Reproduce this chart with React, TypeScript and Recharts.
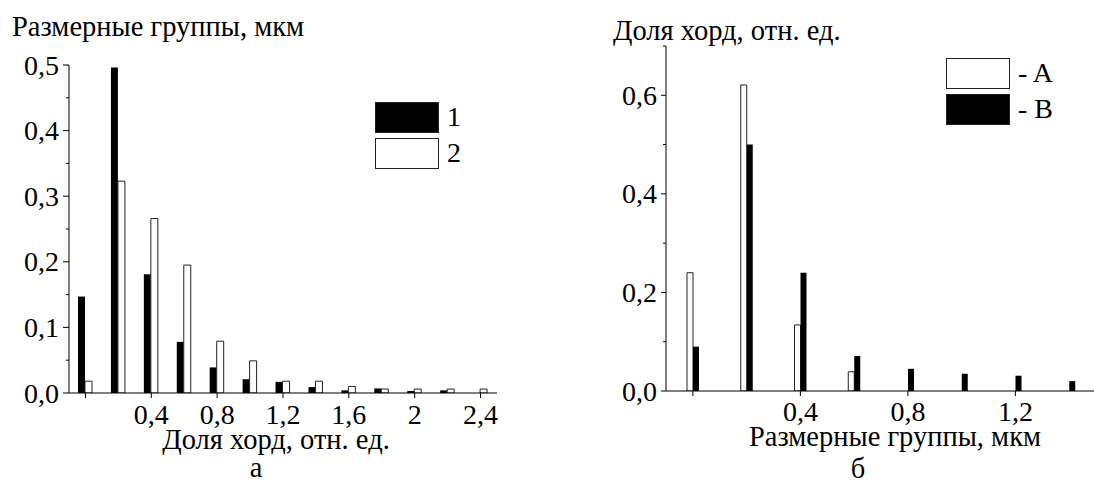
import React from 'react';
import { BarChart, Bar, XAxis, YAxis, Legend } from 'recharts';

const FONT = '"Liberation Serif", "Times New Roman", Times, serif';

// ---- Panel а ----
const groupsA = [0, 0.2, 0.4, 0.6, 0.8, 1.0, 1.2, 1.4, 1.6, 1.8, 2.0, 2.2, 2.4];
const series1 = [0.147, 0.496, 0.181, 0.078, 0.039, 0.021, 0.017, 0.009, 0.004, 0.007, 0.003, 0.004, null];
const series2 = [0.018, 0.323, 0.266, 0.195, 0.079, 0.049, 0.018, 0.018, 0.010, 0.006, 0.006, 0.006, 0.006];
const yMajorA = [0, 0.1, 0.2, 0.3, 0.4, 0.5];
const yLabelsA = ['0,0', '0,1', '0,2', '0,3', '0,4', '0,5'];
const yMinorA = [0.05, 0.15, 0.25, 0.35, 0.45];
const xTicksA = [0, 0.4, 0.8, 1.2, 1.6, 2, 2.4];
const xLabelsA = ['', '0,4', '0,8', '1,2', '1,6', '2', '2,4'];

// ---- Panel б ----
const groupsB = [0, 0.2, 0.4, 0.6, 0.8, 1.0, 1.2, 1.4];
const seriesA = [0.24, 0.621, 0.134, 0.039, null, null, null, null];
const seriesB = [0.09, 0.5, 0.24, 0.071, 0.045, 0.035, 0.031, 0.02];
const yMajorB = [0, 0.2, 0.4, 0.6];
const yLabelsB = ['0,0', '0,2', '0,4', '0,6'];
const yMinorB = [0.1, 0.3, 0.5, 0.7];
const xTicksB = [0, 0.4, 0.8, 1.2];
const xLabelsB = ['', '0,4', '0,8', '1,2'];

const dataA = groupsA.map((g, i) => ({ x: g, s1: series1[i], s2: series2[i] }));
const dataB = groupsB.map((g, i) => ({ x: g, a: seriesA[i], b: seriesB[i] }));

const TICK_FS = 28;
const TITLE_FS = 28.5;

const near = (a: number, b: number) => Math.abs(a - b) < 1e-9;

const makeYTick = (majors: number[], labels: string[], majorLen: number, minorLen: number) => (props: any) => {
  const { x, y, payload } = props;
  const idx = majors.findIndex((m) => near(m, payload.value));
  const isMajor = idx >= 0;
  const len = isMajor ? majorLen : minorLen;
  return (
    <g>
      <line x1={x - len} x2={x} y1={y} y2={y} stroke="#000" strokeWidth={1} />
      {isMajor && (
        <text x={x - len - 4} y={y} dy="0.34em" textAnchor="end" fontFamily={FONT} fontSize={TICK_FS} fill="#000">
          {labels[idx]}
        </text>
      )}
    </g>
  );
};

const makeXTick = (ticks: number[], labels: string[], len: number, baseOff: number) => (props: any) => {
  const { x, y, payload } = props;
  const idx = ticks.findIndex((t) => near(t, payload.value));
  return (
    <g>
      <line x1={x} x2={x} y1={y} y2={y + len} stroke="#000" strokeWidth={1} />
      {idx >= 0 && labels[idx] !== '' && (
        <text x={x} y={y + baseOff} textAnchor="middle" fontFamily={FONT} fontSize={TICK_FS} fill="#000">
          {labels[idx]}
        </text>
      )}
    </g>
  );
};

const makeLegend = (left: number, top: number) => (props: any) => {
  const { payload } = props;
  return (
    <div style={{ position: 'absolute', left, top, fontFamily: FONT, fontSize: TICK_FS, color: '#000' }}>
      {(payload || []).map((p: any, i: number) => (
        <div key={i} style={{ display: 'flex', alignItems: 'center', height: 32, marginBottom: 4 }}>
          <div
            style={{
              width: 64,
              height: 31,
              boxSizing: 'border-box',
              background: p.payload && p.payload.fill ? p.payload.fill : p.color,
              border: '1px solid #222',
            }}
          />
          <span style={{ marginLeft: 8, lineHeight: '32px', whiteSpace: 'pre' }}>{p.value}</span>
        </div>
      ))}
    </div>
  );
};

const textStyle = { fontFamily: FONT, fontSize: TITLE_FS, fill: '#000' } as const;

export default function App() {
  return (
    <div style={{ position: 'absolute', left: 0, top: 0, width: 1094, height: 485, overflow: 'hidden', background: '#fff' }}>
      {/* Panel а */}
      <div style={{ position: 'absolute', left: 0, top: 0 }}>
        <BarChart
          width={540}
          height={485}
          data={dataA}
          barGap={0}
          margin={{ top: 65, right: 43, bottom: 62, left: 9 }}
        >
          <XAxis
            type="number"
            dataKey="x"
            domain={[-0.1, 2.5]}
            ticks={xTicksA}
            interval={0}
            allowDataOverflow
            tickSize={0}
            tickMargin={0}
            tickLine={false}
            axisLine={{ stroke: '#000', strokeWidth: 1 }}
            tick={makeXTick(xTicksA, xLabelsA, 5, 31)}
            height={30}
          />
          <YAxis
            type="number"
            domain={[0, 0.5]}
            ticks={[...yMajorA, ...yMinorA].sort((a, b) => a - b)}
            interval={0}
            allowDataOverflow
            tickSize={0}
            tickMargin={0}
            tickLine={false}
            axisLine={{ stroke: '#000', strokeWidth: 1 }}
            tick={makeYTick(yMajorA, yLabelsA, 6, 3)}
            width={60}
          />
          <Legend
            layout="vertical"
            align="center"
            verticalAlign="middle"
            wrapperStyle={{ position: 'absolute', left: 0, top: 0, width: 540, height: 0 }}
            content={makeLegend(375, 101)}
          />
          <Bar dataKey="s1" name="1" fill="#000" barSize={7} isAnimationActive={false} />
          <Bar dataKey="s2" name="2" fill="#fff" stroke="#222" strokeWidth={1} barSize={7} isAnimationActive={false} />
        </BarChart>
        <svg width={540} height={485} style={{ position: 'absolute', left: 0, top: 0, pointerEvents: 'none' }}>
          <text x={12} y={36} {...textStyle}>Размерные группы, мкм</text>
          <text x={276} y={449} textAnchor="middle" {...textStyle}>Доля хорд, отн. ед.</text>
          <text x={256} y={477} textAnchor="middle" {...textStyle}>а</text>
        </svg>
      </div>

      {/* Panel б */}
      <div style={{ position: 'absolute', left: 540, top: 0 }}>
        <BarChart
          width={560}
          height={485}
          data={dataB}
          barGap={0}
          margin={{ top: 46, right: 4, bottom: 64, left: 66 }}
        >
          <XAxis
            type="number"
            dataKey="x"
            domain={[-0.1, 1.5]}
            ticks={xTicksB}
            interval={0}
            allowDataOverflow
            tickSize={0}
            tickMargin={0}
            tickLine={false}
            axisLine={{ stroke: '#000', strokeWidth: 1 }}
            tick={makeXTick(xTicksB, xLabelsB, 5, 30)}
            height={30}
          />
          <YAxis
            type="number"
            domain={[0, 0.7]}
            ticks={[...yMajorB, ...yMinorB].sort((a, b) => a - b)}
            interval={0}
            allowDataOverflow
            tickSize={0}
            tickMargin={0}
            tickLine={false}
            axisLine={{ stroke: '#000', strokeWidth: 1 }}
            tick={makeYTick(yMajorB, yLabelsB, 5, 3)}
            width={60}
          />
          <Legend
            layout="vertical"
            align="center"
            verticalAlign="middle"
            wrapperStyle={{ position: 'absolute', left: 0, top: 0, width: 560, height: 0 }}
            content={makeLegend(406, 57)}
          />
          <Bar dataKey="a" name="- A" fill="#fff" stroke="#222" strokeWidth={1} barSize={6} isAnimationActive={false} />
          <Bar dataKey="b" name="- B" fill="#000" barSize={6} isAnimationActive={false} />
        </BarChart>
        <svg width={560} height={485} style={{ position: 'absolute', left: 0, top: 0, pointerEvents: 'none' }}>
          <text x={73} y={40} {...textStyle}>Доля хорд, отн. ед.</text>
          <text x={355} y={446} textAnchor="middle" {...textStyle}>Размерные группы, мкм</text>
          <text x={318} y={478} textAnchor="middle" {...textStyle}>б</text>
        </svg>
      </div>
    </div>
  );
}
